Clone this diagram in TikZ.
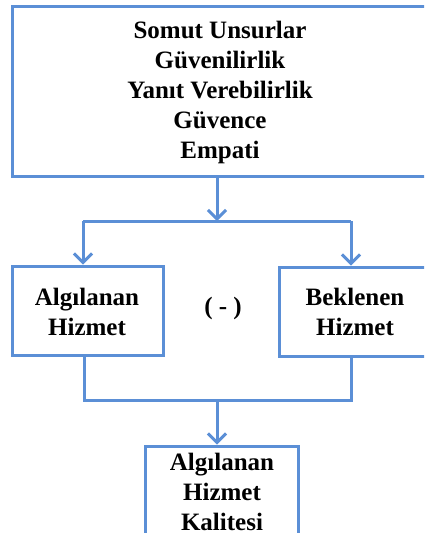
\documentclass[tikz,border=0pt]{standalone}
\usepackage{fontspec}
\setmainfont{Liberation Serif}
\usetikzlibrary{arrows.meta}
\definecolor{boxblue}{RGB}{91,143,214}
\tikzset{
  box/.style={draw=boxblue, line width=3pt, rectangle, inner sep=0pt, align=center,
    font=\fontsize{25}{30}\selectfont\bfseries},
  conn/.style={draw=boxblue, line width=3pt, line join=miter},
  arr/.style={conn, -{Straight Barb[length=9pt,width=18pt,line width=3pt]}},
  lbl/.style={font=\fontsize{25}{30}\selectfont\bfseries, inner sep=0pt}
}
\begin{document}
\begin{tikzpicture}[x=1pt,y=1pt]
\useasboundingbox (0,0) rectangle (424,-533);
\clip (0,0) rectangle (424,-533);
\node[box, minimum width=428pt, minimum height=170pt] (top) at (226,-91) {};
\node[lbl, align=center] (toptxt) at (220,-92) {Somut Unsurlar\\Güvenilirlik\\Yanıt Verebilirlik\\Güvence\\Empati};
\node[box, minimum width=151pt, minimum height=89pt] (la) at (87.5,-310.5) {};
\node[lbl, align=center] (latxt) at (87,-312) {Algılanan\\Hizmet};
\node[box, minimum width=161pt, minimum height=89pt] (ra) at (359.5,-311.5) {};
\node[lbl, align=center] (ratxt) at (355,-312) {Beklenen\\Hizmet};
\node[lbl] (minus) at (223,-308) {( - )};
\node[box, minimum width=153pt, minimum height=120pt] (bk) at (221.5,-506) {};
\node[lbl, align=center] (bktxt) at (222,-492) {Algılanan\\Hizmet\\Kalitesi};
\coordinate (jm) at (217,-221);
\coordinate (jl) at (83,-221);
\coordinate (jr) at (351,-221);
\coordinate (bl) at (84,-400);
\coordinate (br) at (351,-400);
\coordinate (bm) at (217,-400);
\draw[arr] (top.south -| jm) -- (jm);
\draw[conn] (jl) -- (jr);
\draw[arr] (jl) -- (jl |- la.north);
\draw[arr] (jr) -- (jr |- ra.north);
\draw[conn] (bl |- la.south) -- (bl) -- (br) -- (br |- ra.south);
\draw[arr] (bm) -- (bm |- bk.north);
\end{tikzpicture}
\end{document}
